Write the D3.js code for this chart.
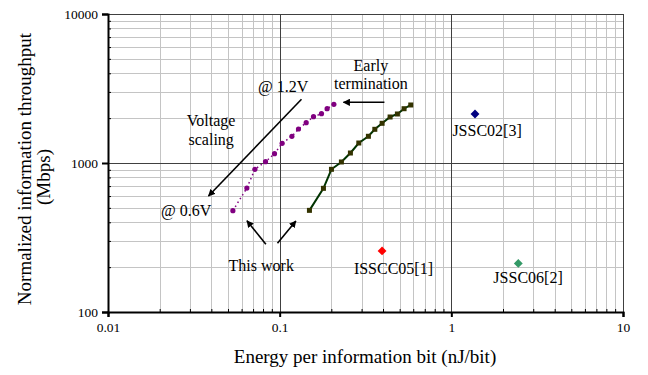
<!DOCTYPE html>
<html>
<head>
<meta charset="utf-8">
<script src="https://cdnjs.cloudflare.com/ajax/libs/d3/7.8.5/d3.min.js"></script>
<style>
  body { margin: 0; background: #fff; }
  svg, svg text { font-family: "Liberation Serif", "Times New Roman", serif; fill: #000; }
</style>
</head>
<body>
<div id="chart"></div>
<script>
// this work, voltage scaling (0.6V .. 1.2V)
var vsEnergy = [0.0534, 0.0644, 0.0717, 0.0827, 0.0933, 0.1034, 0.1178, 0.1287, 0.1427, 0.1574, 0.1752, 0.189, 0.2069];
var vsThroughput = [479, 679, 907, 1020, 1155, 1356, 1511, 1691, 1864, 2045, 2143, 2314, 2477];

// this work, early termination
var etEnergy = [0.1491, 0.1799, 0.2003, 0.2289, 0.2583, 0.2891, 0.3288, 0.3583, 0.3952, 0.4398, 0.4851, 0.5305, 0.5803];
var etThroughput = [481, 676, 907, 1016, 1167, 1362, 1511, 1683, 1847, 2036, 2133, 2314, 2451];

// prior work
var refNames = ["ISSCC05[1]", "JSSC06[2]", "JSSC02[3]"];
var refEnergy = [0.395, 2.455, 1.374];
var refThroughput = [257, 212, 2133];
var refColors = ["#ff0000", "#339966", "#000080"];

var xTicks = [0.01, 0.1, 1, 10];
var yTicks = [100, 1000, 10000];

var margin = { top: 14, right: 25, bottom: 63, left: 108 },
  width  = 648 - margin.left - margin.right,
  height = 375 - margin.top - margin.bottom;

var x = d3.scaleLog().domain([0.01, 10]).range([0, width]);
var y = d3.scaleLog().domain([100, 10000]).range([height, 0]);

var svg = d3.select("#chart").append("svg")
  .attr("width", 648)
  .attr("height", 375)
  .append("g")
  .attr("transform", "translate(" + margin.left + "," + margin.top + ")");

// grid
var xMinor = x.ticks().filter(function(d) { return xTicks.indexOf(d) < 0; });
var yMinor = y.ticks().filter(function(d) { return yTicks.indexOf(d) < 0; });

svg.selectAll(".xminor").data(xMinor).enter().append("line")
  .attr("x1", function(d) { return Math.round(x(d)) + 0.5; })
  .attr("x2", function(d) { return Math.round(x(d)) + 0.5; })
  .attr("y1", 0).attr("y2", height)
  .attr("stroke", "#c4c4c4");
svg.selectAll(".yminor").data(yMinor).enter().append("line")
  .attr("y1", function(d) { return Math.round(y(d)) + 0.5; })
  .attr("y2", function(d) { return Math.round(y(d)) + 0.5; })
  .attr("x1", 0).attr("x2", width)
  .attr("stroke", "#c4c4c4");
svg.selectAll(".xmajor").data(xTicks).enter().append("line")
  .attr("x1", function(d) { return Math.round(x(d)) + 0.5; })
  .attr("x2", function(d) { return Math.round(x(d)) + 0.5; })
  .attr("y1", 0).attr("y2", height)
  .attr("stroke", "#404040");
svg.selectAll(".ymajor").data(yTicks).enter().append("line")
  .attr("y1", function(d) { return Math.round(y(d)) + 0.5; })
  .attr("y2", function(d) { return Math.round(y(d)) + 0.5; })
  .attr("x1", 0).attr("x2", width)
  .attr("stroke", "#404040");

// axes
var xAxis = svg.append("g")
  .attr("transform", "translate(0," + height + ")")
  .call(d3.axisBottom(x).tickValues(xTicks).tickFormat(d3.format("")).tickSize(5).tickPadding(5));
var yAxis = svg.append("g")
  .call(d3.axisLeft(y).tickValues(yTicks).tickFormat(d3.format("")).tickSize(6).tickPadding(4));

// minor ticks inside
svg.append("g")
  .attr("transform", "translate(0," + height + ")")
  .call(d3.axisTop(x).tickValues(xMinor).tickFormat("").tickSize(3).tickSizeOuter(0))
  .select(".domain").remove();
svg.append("g")
  .call(d3.axisRight(y).tickValues(yMinor).tickFormat("").tickSize(3).tickSizeOuter(0))
  .select(".domain").remove();

[xAxis, yAxis].forEach(function(a) {
  a.attr("font-family", null);
  a.select(".domain").attr("stroke-width", 2).attr("stroke", "#000");
  a.selectAll(".tick line").attr("stroke-width", 2).attr("stroke", "#000");
  a.selectAll("text").style("font-size", "13.5px").attr("fill", "#000");
});

// axis titles
svg.append("text")
  .attr("x", 257)
  .attr("y", 349)
  .style("text-anchor", "middle")
  .style("font-size", "19px")
  .text("Energy per information bit (nJ/bit)");

svg.append("text")
  .attr("transform", "rotate(-90)")
  .attr("x", -155)
  .attr("y", -77)
  .style("text-anchor", "middle")
  .style("font-size", "19px")
  .text("Normalized information throughput");
svg.append("text")
  .attr("transform", "rotate(-90)")
  .attr("x", -163)
  .attr("y", -58)
  .style("text-anchor", "middle")
  .style("font-size", "19px")
  .text("(Mbps)");

// voltage scaling series
var vs = vsEnergy.map(function(d, i) { return { x: d, y: vsThroughput[i] }; });
var et = etEnergy.map(function(d, i) { return { x: d, y: etThroughput[i] }; });

var line = d3.line()
  .x(function(d) { return x(d.x); })
  .y(function(d) { return y(d.y); });

svg.append("path")
  .attr("d", line(vs))
  .attr("fill", "none")
  .attr("stroke", "#800080")
  .attr("stroke-width", 1.5)
  .attr("stroke-dasharray", "1.5,3");
svg.selectAll(".vs").data(vs).enter().append("circle")
  .attr("cx", function(d) { return x(d.x); })
  .attr("cy", function(d) { return y(d.y); })
  .attr("r", 2.6)
  .attr("fill", "#800080");

// early termination series
svg.append("path")
  .attr("d", line(et))
  .attr("fill", "none")
  .attr("stroke", "#003300")
  .attr("stroke-width", 2);
svg.selectAll(".et").data(et).enter().append("rect")
  .attr("x", function(d) { return x(d.x) - 2.5; })
  .attr("y", function(d) { return y(d.y) - 2.5; })
  .attr("width", 5)
  .attr("height", 5)
  .attr("fill", "#333300");

// prior work
svg.selectAll(".ref").data(refNames).enter().append("path")
  .attr("d", d3.symbol().type(d3.symbolDiamond2).size(50))
  .attr("transform", function(d, i) { return "translate(" + x(refEnergy[i]) + "," + y(refThroughput[i]) + ")"; })
  .attr("fill", function(d, i) { return refColors[i]; });

// annotations, in data units
var labelText = ["ISSCC05[1]", "JSSC06[2]", "JSSC02[3]", "This work", "@ 0.6V", "@ 1.2V", "Voltage", "scaling", "Early", "termination"];
var labelX = [0.46, 2.798, 1.615, 0.0781, 0.0285, 0.1049, 0.0399, 0.0399, 0.34, 0.34];
var labelY = [180, 157, 1518, 188, 441, 3010, 1771, 1321, 4165, 3124];

svg.selectAll(".lab").data(labelText).enter().append("text")
  .attr("x", function(d, i) { return x(labelX[i]); })
  .attr("y", function(d, i) { return y(labelY[i]); })
  .style("text-anchor", "middle")
  .style("font-size", "16px")
  .text(function(d) { return d; });

var arrowFromX = [0.134, 0.4076, 0.0831, 0.0971];
var arrowFromY = [2676, 2555, 285, 289];
var arrowToX = [0.0385, 0.2352, 0.0645, 0.1243];
var arrowToY = [600, 2555, 410, 408];

svg.append("defs").append("marker")
  .attr("id", "head")
  .attr("viewBox", "0 0 10 10")
  .attr("refX", 9).attr("refY", 5)
  .attr("markerWidth", 4.5).attr("markerHeight", 4.5)
  .attr("orient", "auto")
  .append("path")
  .attr("d", "M0,0L10,5L0,10z")
  .attr("fill", "#000");

svg.selectAll(".arrow").data(arrowFromX).enter().append("line")
  .attr("x1", function(d, i) { return x(arrowFromX[i]); })
  .attr("y1", function(d, i) { return y(arrowFromY[i]); })
  .attr("x2", function(d, i) { return x(arrowToX[i]); })
  .attr("y2", function(d, i) { return y(arrowToY[i]); })
  .attr("stroke", "#000")
  .attr("stroke-width", 1.6)
  .attr("marker-end", "url(#head)");
</script>
</body>
</html>
